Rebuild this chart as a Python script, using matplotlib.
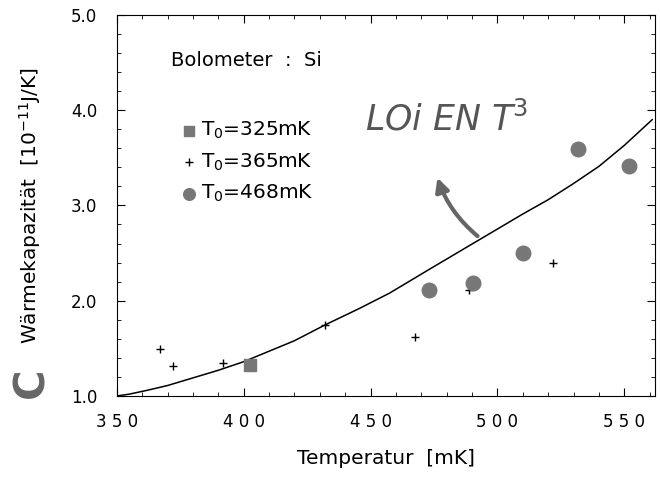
import matplotlib.pyplot as plt
from matplotlib.ticker import MultipleLocator

# T0 = 325 mK
t_325 = [402.6]
c_325 = [1.33]

# T0 = 365 mK
t_365 = [367.2, 372.1, 391.8, 432.1, 467.5, 489.0, 521.8]
c_365 = [1.49, 1.31, 1.35, 1.74, 1.62, 2.11, 2.40]

# T0 = 468 mK
t_468 = [473.0, 490.3, 509.9, 531.6, 551.8]
c_468 = [2.11, 2.19, 2.50, 3.59, 3.41]

# T^3 law curve
curve_t = [350.0, 355.0, 362.0, 370.0, 380.0, 390.0, 400.0, 410.0, 420.0, 432.0,
           445.7, 457.5, 473.2, 491.6, 500.5, 510.0, 520.0, 530.0, 540.0, 550.0, 561.0]
curve_c = [1.00, 1.02, 1.06, 1.11, 1.19, 1.27, 1.36, 1.47, 1.58, 1.745,
           1.92, 2.08, 2.33, 2.62, 2.76, 2.91, 3.06, 3.23, 3.41, 3.63, 3.90]

x_ticks = [350, 400, 450, 500, 550]
y_ticks = [1.0, 2.0, 3.0, 4.0, 5.0]
labels = ["T$_0$=325mK", "T$_0$=365mK", "T$_0$=468mK"]

fig = plt.figure(figsize=(6.6, 4.8), dpi=100)
ax = fig.add_axes([0.177, 0.175, 0.815, 0.794])

ax.plot(curve_t, curve_c, color="black", lw=1.1)
ax.scatter(t_325, c_325, marker="s", s=80, color="#777777", label=labels[0], zorder=3)
ax.scatter(t_365, c_365, marker="+", s=40, color="black", lw=1.0, label=labels[1], zorder=3)
ax.scatter(t_468, c_468, marker="o", s=110, color="#777777", label=labels[2], zorder=3)

ax.set_xlim(350, 562)
ax.set_ylim(1.0, 5.0)
ax.set_xticks(x_ticks)
ax.set_xticklabels([" ".join(str(v)) for v in x_ticks])
ax.set_yticks(y_ticks)
ax.set_yticklabels([f"{v:.1f}" for v in y_ticks])
ax.xaxis.set_minor_locator(MultipleLocator(10))
ax.yaxis.set_minor_locator(MultipleLocator(0.2))
ax.tick_params(which="both", direction="in", top=True, right=True, labelsize=12)
ax.tick_params(which="major", length=6)
ax.tick_params(which="minor", length=3)
ax.tick_params(axis="x", pad=12)
ax.tick_params(axis="y", pad=14)

ax.set_xlabel("Temperatur  [mK]", fontsize=14.5, labelpad=13)
ax.set_ylabel("Wärmekapazität  [10$^{-11}$J/K]", fontsize=14.5, labelpad=20)

ax.text(0.1, 0.88, "Bolometer  :  Si", transform=ax.transAxes, fontsize=14, va="center")
ax.legend(loc="upper left", bbox_to_anchor=(0.1, 0.745), frameon=False, fontsize=14.5,
          handletextpad=0.1, labelspacing=0.5, markerscale=0.8, handlelength=1.0,
          borderaxespad=0)

# handwritten note
ax.text(480, 3.9, "LOi EN T$^3$", fontsize=25, color="#555555", ha="center", va="center",
        style="italic")
ax.annotate("", xy=(476, 3.32), xytext=(493, 2.66),
            arrowprops=dict(arrowstyle="-|>", color="#666666", lw=3, mutation_scale=20,
                            connectionstyle="arc3,rad=-0.15"))
fig.text(0.048, 0.202, "C", fontsize=30, color="#666666", rotation=90, ha="center",
         va="center", fontweight="bold")

fig.savefig("out.png", dpi=100)
